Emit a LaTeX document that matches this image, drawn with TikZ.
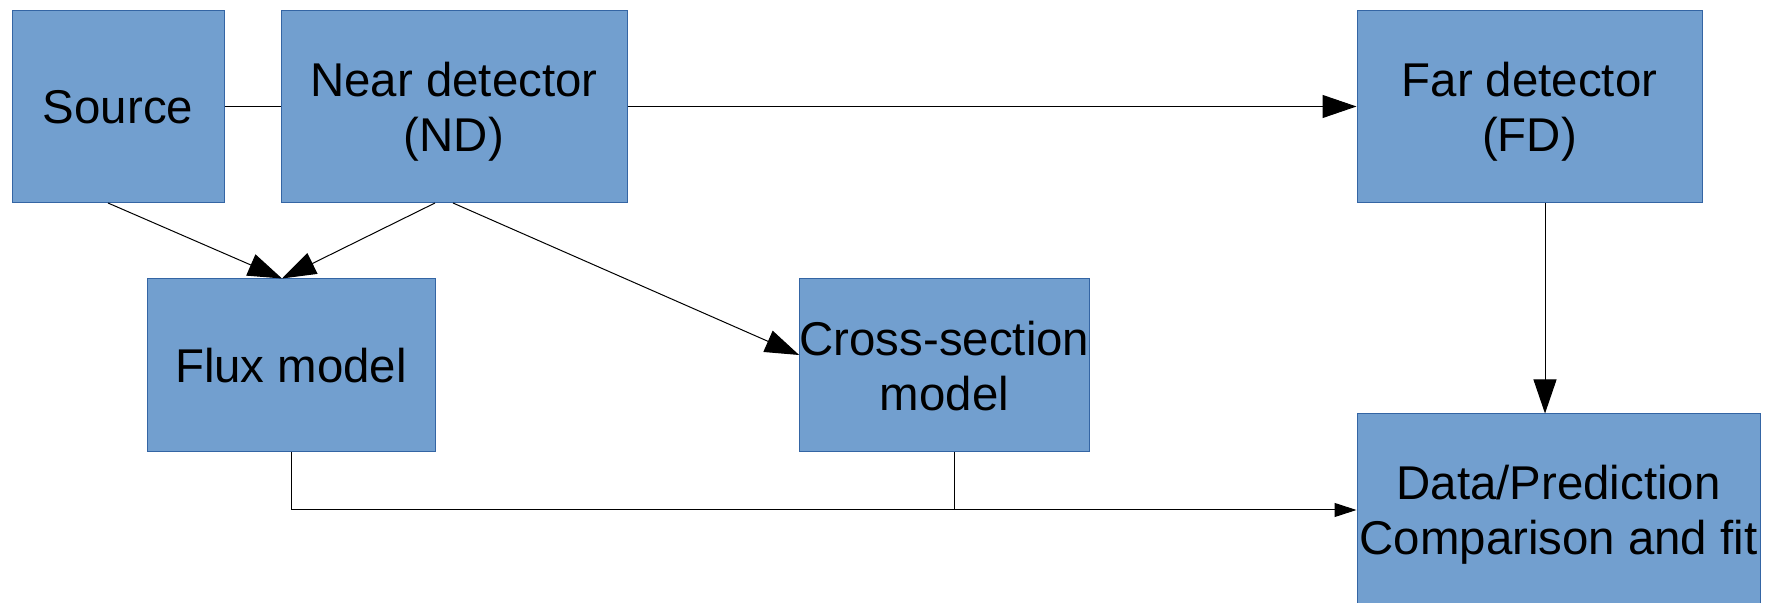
\documentclass[tikz,border=0pt]{standalone}
\usepackage{fontspec}
\setmainfont{Liberation Sans}
\usetikzlibrary{arrows.meta,calc}
\definecolor{boxfill}{HTML}{729FCF}
\definecolor{boxline}{HTML}{3465A4}
\begin{document}
\begin{tikzpicture}[x=0.5pt,y=-0.5pt,
  block/.style={draw=boxline,fill=boxfill,line width=0.5pt,inner sep=0pt,
    align=center,text depth=0pt,font=\fontsize{23.7pt}{27.5pt}\selectfont},
  link/.style={draw=black,line width=0.5pt},
  bigtip/.style={link,-{Triangle[length=17pt,width=11.5pt]}},
  smalltip/.style={link,-{Triangle[length=11pt,width=7pt]}}]
\useasboundingbox (0,0) rectangle (1767,603);

% boxes
\node[block,minimum width=106pt,minimum height=96pt] (src) at (118,106.5) {Source};
\node[block,minimum width=173pt,minimum height=96pt] (nd) at (454,106.5) {Near detector\\(ND)};
\node[block,minimum width=172.5pt,minimum height=96pt] (fd) at (1529.5,106.5) {Far detector\\(FD)};
\node[block,minimum width=144pt,minimum height=86.5pt] (flux) at (291,365.5) {Flux model};
\node[block,minimum width=144.5pt,minimum height=86.5pt] (xs) at (944.5,365.5) {Cross-section\\model};
\node[block,minimum width=201.5pt,minimum height=96pt] (data) at (1558.5,510) {Data/Prediction\\Comparison and fit};

% connectors
\coordinate (fluxin) at ($(flux.north)+(-9,0)$);
\draw[link] (src.east) -- (nd.west);
\draw[bigtip] (nd.east) -- (fd.west);
\draw[bigtip] ($(src.south)+(-10,0)$) -- (fluxin);
\draw[bigtip] ($(nd.south)+(-19,0)$) -- (fluxin);
\draw[bigtip] ($(nd.south)+(-1,0)$) -- ($(xs.west)+(0,-10.5)$);
\coordinate (fdout) at ($(fd.south)+(15.5,0)$);
\draw[bigtip] (fdout) -- (fdout |- data.north);
\draw[smalltip] (flux.south) |- (data.west);
\coordinate (xsout) at ($(xs.south)+(9.5,0)$);
\draw[link] (xsout) -- (xsout |- data.west);
\end{tikzpicture}
\end{document}
